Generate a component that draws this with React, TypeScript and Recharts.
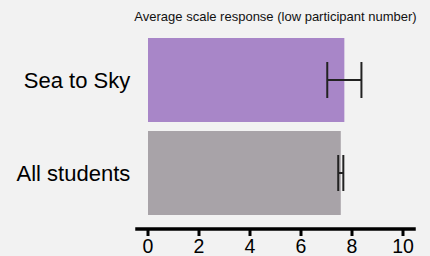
import React from "react";
import { BarChart, Bar, XAxis, YAxis, ErrorBar, Cell } from "recharts";

const categories = ["Sea to Sky", "All students"];
const means = [7.7, 7.56];
const errors = [0.67, 0.1];
const colors = ["#a886c8", "#a8a3a8"];
const xTicks = [0, 2, 4, 6, 8, 10];
const title = "Average scale response (low participant number)";

const data = categories.map((c, i) => ({ name: c, value: means[i], err: errors[i] }));

const FONT = "'Liberation Sans', Arial, sans-serif";

export default function App() {
  return (
    <div
      style={{
        position: "absolute",
        left: 0,
        top: 0,
        width: 430,
        height: 256,
        background: "#f2f2f2",
        fontFamily: FONT,
        overflow: "hidden",
      }}
    >
      <div
        style={{
          position: "absolute",
          left: 275.5,
          top: 16,
          transform: "translate(-50%, -50%)",
          whiteSpace: "nowrap",
          fontSize: 13,
          color: "#111",
        }}
      >
        {title}
      </div>
      <BarChart
        width={430}
        height={256}
        data={data}
        layout="vertical"
        margin={{ top: 33.5, right: 14.25, bottom: 0, left: 0 }}
        barCategoryGap={4.5}
      >
        <XAxis
          type="number"
          domain={[-0.5, 10.5]}
          ticks={xTicks}
          interval={0}
          height={27}
          axisLine={{ stroke: "#000", strokeWidth: 3.5 }}
          tickLine={{ stroke: "#000", strokeWidth: 3 }}
          tickSize={7}
          tickMargin={3}
          tick={{ fill: "#000", fontSize: 19.5, fontFamily: FONT }}
        />
        <YAxis
          type="category"
          dataKey="name"
          width={135.25}
          axisLine={false}
          tickLine={false}
          tickSize={0}
          tickMargin={5}
          padding={{ top: 0, bottom: 9.5 }}
          tick={{ fill: "#000", fontSize: 22, fontFamily: FONT }}
        />
        <Bar dataKey="value" isAnimationActive={false}>
          {data.map((d, i) => (
            <Cell key={d.name} fill={colors[i]} />
          ))}
          <ErrorBar dataKey="err" direction="x" width={18} stroke="#222" strokeWidth={2} />
        </Bar>
      </BarChart>
    </div>
  );
}
